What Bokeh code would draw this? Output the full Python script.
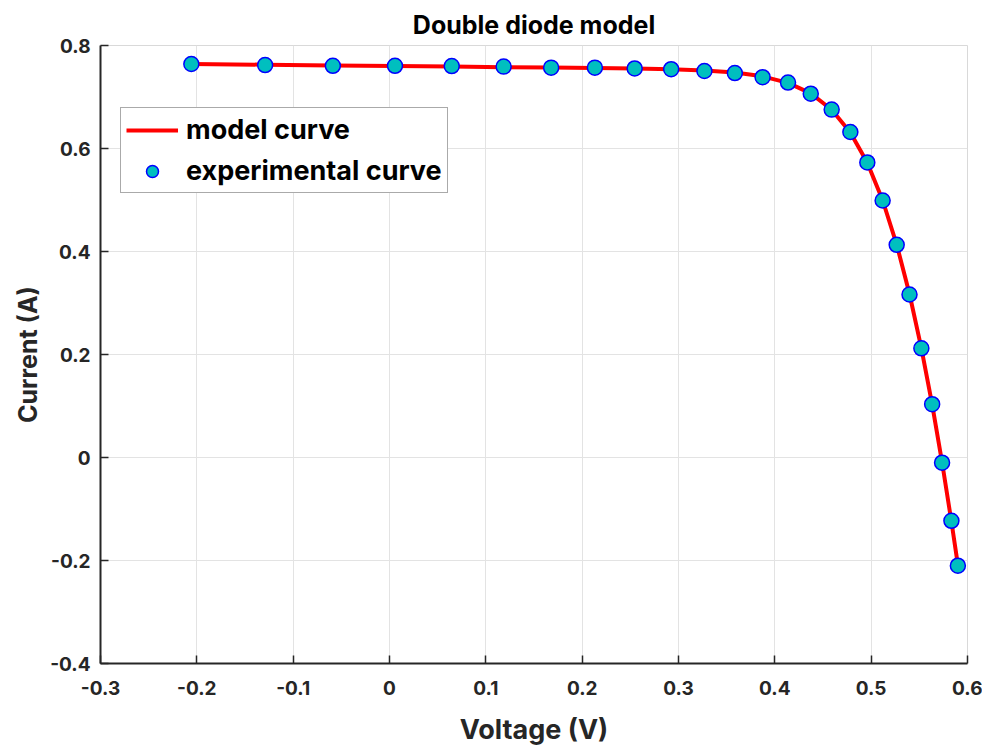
from bokeh.plotting import figure
from bokeh.models import ColumnDataSource, FixedTicker, CustomJSTickFormatter, Legend, LegendItem
from bokeh.embed import file_html
from bokeh.resources import INLINE

voltage = [-0.2057, -0.1291, -0.0588, 0.0057, 0.0646, 0.1185, 0.1678, 0.2132, 0.2545, 0.2924,
           0.3269, 0.3585, 0.3873, 0.4137, 0.4373, 0.4590, 0.4784, 0.4960, 0.5119, 0.5265,
           0.5398, 0.5521, 0.5633, 0.5736, 0.5833, 0.5900]
current_exp = [0.7640, 0.7620, 0.7605, 0.7605, 0.7600, 0.7590, 0.7570, 0.7570, 0.7555, 0.7540,
               0.7505, 0.7465, 0.7385, 0.7280, 0.7065, 0.6755, 0.6320, 0.5730, 0.4990, 0.4130,
               0.3165, 0.2120, 0.1035, -0.0100, -0.1230, -0.2100]
current_model = [0.7640, 0.7627, 0.7614, 0.7602, 0.7591, 0.7580, 0.7571, 0.7561, 0.7551, 0.7537,
                 0.7514, 0.7474, 0.7401, 0.7274, 0.7070, 0.6753, 0.6311, 0.5724, 0.4995, 0.4135,
                 0.3174, 0.2124, 0.1031, -0.0093, -0.1244, -0.2085]
x_ticks = [-0.3, -0.2, -0.1, 0.0, 0.1, 0.2, 0.3, 0.4, 0.5, 0.6]
y_ticks = [-0.4, -0.2, 0.0, 0.2, 0.4, 0.6, 0.8]

src = ColumnDataSource(dict(v=voltage, ie=current_exp, im=current_model))

FONT = "Inter"
TXT = "#262626"

p = figure(frame_width=867, frame_height=618, x_range=(-0.3, 0.6), y_range=(-0.4, 0.8),
           output_backend="svg", toolbar_location=None,
           min_border_left=100, min_border_top=45, min_border_right=15, min_border_bottom=78,
           title="Double diode model")
p.title.align = "center"
p.title.text_font = FONT
p.title.text_font_size = "25px"
p.title.text_font_style = "bold"
p.title.text_color = "black"
p.title.offset = 0
p.title.standoff = 12

p.outline_line_color = "#d9d9d9"
p.outline_line_width = 1

for ax in (p.xaxis[0], p.yaxis[0]):
    ax.axis_line_color = TXT
    ax.axis_line_width = 2
    ax.major_tick_line_color = TXT
    ax.major_tick_line_width = 1.5
    ax.major_tick_in = 8
    ax.major_tick_out = 0
    ax.minor_tick_line_color = None
    ax.major_label_text_font = FONT
    ax.major_label_text_font_size = "19px"
    ax.major_label_text_font_style = "bold"
    ax.major_label_text_color = TXT
    ax.axis_label_text_font = FONT
    ax.axis_label_text_font_style = "bold"
    ax.axis_label_text_color = TXT

fmt = CustomJSTickFormatter(code="return Number(tick.toFixed(1)).toString();")
p.xaxis[0].ticker = FixedTicker(ticks=x_ticks)
p.yaxis[0].ticker = FixedTicker(ticks=y_ticks)
p.xaxis[0].formatter = fmt
p.yaxis[0].formatter = fmt
p.xaxis[0].axis_label = "Voltage (V)"
p.yaxis[0].axis_label = "Current (A)"
p.xaxis[0].axis_label_text_font_size = "27px"
p.yaxis[0].axis_label_text_font_size = "25px"
p.xaxis[0].major_label_standoff = 17
p.yaxis[0].major_label_standoff = 10
p.xaxis[0].axis_label_standoff = 15
p.yaxis[0].axis_label_standoff = 4

p.grid.grid_line_color = "#e3e3e3"
p.grid.grid_line_width = 1

line = p.line("v", "im", source=src, line_color="#ff0000", line_width=4)
pts = p.scatter("v", "ie", source=src, size=15, fill_color="#00bfbf",
                line_color="#0000ff", line_width=1.5)

legend = Legend(items=[LegendItem(label="model curve", renderers=[line]),
                       LegendItem(label="experimental curve", renderers=[pts])],
                location=(20, 470))
legend.label_text_font = FONT
legend.label_text_font_size = "27px"
legend.label_text_font_style = "bold"
legend.label_text_color = "black"
legend.border_line_color = "#555555"
legend.border_line_width = 1
legend.background_fill_color = "white"
legend.background_fill_alpha = 1
legend.glyph_width = 52
legend.glyph_height = 30
legend.label_height = 30
legend.label_standoff = 8
legend.spacing = 8
legend.padding = 5
legend.margin = 0
p.add_layout(legend)

open("out.html", "w").write(file_html(p, INLINE))
